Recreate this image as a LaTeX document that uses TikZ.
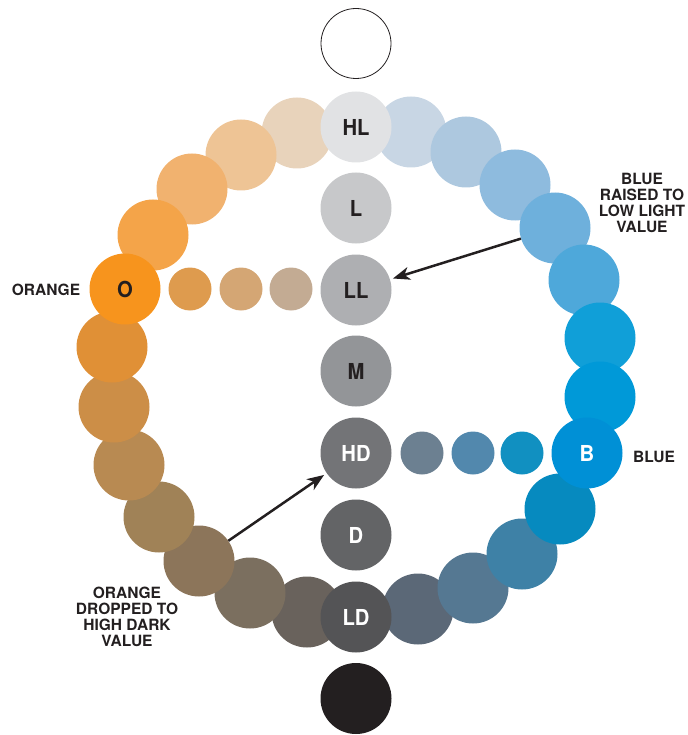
\documentclass[tikz,border=0pt]{standalone}
\usepackage{fontspec}
\setmainfont{TeX Gyre Heros}
\newfontfamily\condfont[FakeStretch=0.92]{TeX Gyre Heros}
\usetikzlibrary{arrows.meta}
\definecolor{ink}{HTML}{231F20}
% value column
\definecolor{vHL}{HTML}{E1E2E4}
\definecolor{vL}{HTML}{C7C8CA}
\definecolor{vLL}{HTML}{AEAFB2}
\definecolor{vM}{HTML}{939598}
\definecolor{vHD}{HTML}{737477}
\definecolor{vD}{HTML}{636466}
\definecolor{vLD}{HTML}{545456}
% right ring
\definecolor{rA}{HTML}{C8D6E4}
\definecolor{rB}{HTML}{ADC8DF}
\definecolor{rC}{HTML}{8EBBDE}
\definecolor{rD}{HTML}{6EB0DC}
\definecolor{rE}{HTML}{4EA8DA}
\definecolor{rF}{HTML}{109FD8}
\definecolor{rG}{HTML}{0099D8}
\definecolor{cB}{HTML}{0090D6}
\definecolor{rH}{HTML}{068ABF}
\definecolor{rI}{HTML}{3E81A6}
\definecolor{rJ}{HTML}{557892}
\definecolor{rK}{HTML}{5B6877}
% left ring
\definecolor{lA}{HTML}{69625C}
\definecolor{lB}{HTML}{7B6F5F}
\definecolor{lC}{HTML}{8C755A}
\definecolor{lD}{HTML}{A08257}
\definecolor{lE}{HTML}{B88A52}
\definecolor{lF}{HTML}{CC8E47}
\definecolor{lG}{HTML}{E09036}
\definecolor{cO}{HTML}{F7941D}
\definecolor{lH}{HTML}{F4A449}
\definecolor{lI}{HTML}{F1B26F}
\definecolor{lJ}{HTML}{EEC495}
\definecolor{lK}{HTML}{E8D3BB}
% small steps
\definecolor{sO1}{HTML}{DE9B4E}
\definecolor{sO2}{HTML}{D4A674}
\definecolor{sO3}{HTML}{C3AB93}
\definecolor{sB1}{HTML}{6C8091}
\definecolor{sB2}{HTML}{5288AD}
\definecolor{sB3}{HTML}{1190C1}
\tikzset{
  big/.style={circle,minimum size=71pt,inner sep=0pt,draw=none,
    font=\condfont\fontsize{22}{26}\selectfont\bfseries,text=ink},
  wtxt/.style={text=white},
  small/.style={circle,minimum size=43pt,inner sep=0pt,draw=none},
  lab/.style={font=\fontsize{15.5}{16.2}\selectfont\bfseries,text=ink,align=center,inner sep=0pt},
  arr/.style={-{Stealth[length=17pt,width=13pt,inset=5pt]},line width=2.5pt,draw=ink,shorten >=3pt}
}
\begin{document}
\begin{tikzpicture}[x=1pt,y=-1pt]
\useasboundingbox (0,0) rectangle (687,735);
% value column (non-ring)
\node[big,draw=ink,line width=0.8pt,fill=white,minimum size=70pt] (white) at (356,43.5) {};
\node[big,fill=vL] (L) at (356,208) {L};
\node[big,fill=vLL] (LL) at (356,290) {LL};
\node[big,fill=vM] (M) at (356,371) {M};
\node[big,fill=vHD,wtxt] (HD) at (356,453) {HD};
\node[big,fill=vD,wtxt] (D) at (356,535) {D};
\node[big,fill=ink] (black) at (356,698.5) {};
% small step circles
\node[small,fill=sO1] (o1) at (190,289) {};
\node[small,fill=sO2] (o2) at (241,289) {};
\node[small,fill=sO3] (o3) at (291,289) {};
\node[small,fill=sB1] (b1) at (422,453) {};
\node[small,fill=sB2] (b2) at (473,453) {};
\node[small,fill=sB3] (b3) at (522,453) {};
% right ring, top to B
\node[big,fill=rA] (rA) at (411,132) {};
\node[big,fill=rB] (rB) at (466,152) {};
\node[big,fill=rC] (rC) at (515,185) {};
\node[big,fill=rD] (rD) at (555,228) {};
\node[big,fill=rE] (rE) at (584,280) {};
\node[big,fill=rF] (rF) at (600,338) {};
\node[big,fill=rG] (rG) at (600,397) {};
% bottom right, LD to B
\node[big,fill=rK] (rK) at (418,609) {};
\node[big,fill=rJ] (rJ) at (473,588) {};
\node[big,fill=rI] (rI) at (522,554) {};
\node[big,fill=rH] (rH) at (560,509) {};
\node[big,fill=cB,wtxt] (B) at (587,453) {B};
% left ring, LD up to O
\node[big,fill=lA] (lA) at (307,612) {};
\node[big,fill=lB] (lB) at (250,593) {};
\node[big,fill=lC] (lC) at (199,561) {};
\node[big,fill=lD] (lD) at (159,517) {};
\node[big,fill=lE] (lE) at (129,465) {};
\node[big,fill=lF] (lF) at (114,407) {};
\node[big,fill=lG] (lG) at (112,347) {};
% upper left, HL down to O
\node[big,fill=lK] (lK) at (297,133) {};
\node[big,fill=lJ] (lJ) at (241,155) {};
\node[big,fill=lI] (lI) at (192,189) {};
\node[big,fill=lH] (lH) at (153,235) {};
\node[big,fill=cO] (O) at (125,289) {O};
% focal value nodes on top
\node[big,fill=vHL] (HL) at (356,127) {HL};
\node[big,fill=vLD,wtxt] (LD) at (356,617) {LD};
% labels
\node[lab] (tOrange) at (46,290) {ORANGE};
\node[lab] (tBlue) at (654,457) {BLUE};
\node[lab] (tRaise) at (642,203) {BLUE\\RAISED TO\\LOW LIGHT\\VALUE};
\node[lab] (tDrop) at (127,617) {ORANGE\\DROPPED TO\\HIGH DARK\\VALUE};
% arrows
\draw[arr] (rD) -- (LL);
\draw[arr] (lC) -- (HD);
\end{tikzpicture}
\end{document}
